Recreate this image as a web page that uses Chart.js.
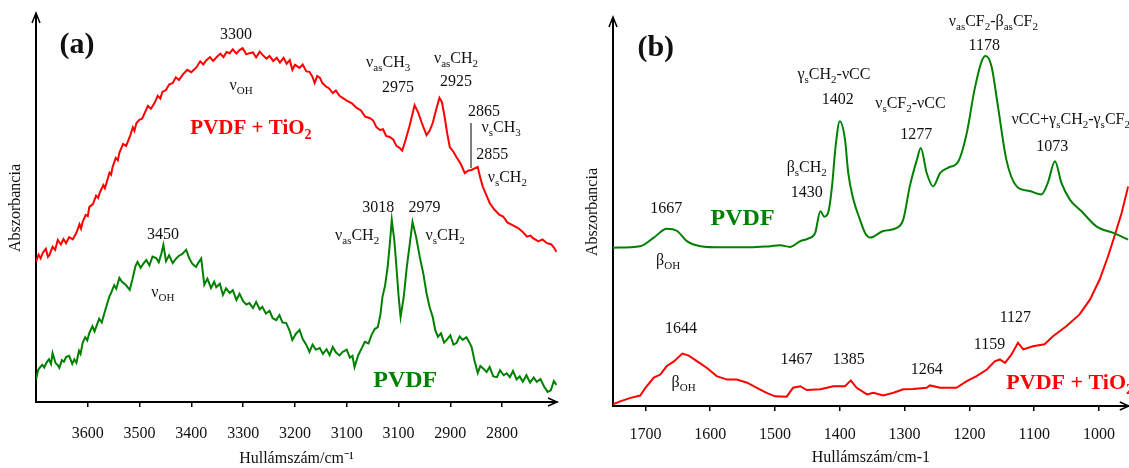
<!DOCTYPE html>
<html>
<head>
<meta charset="utf-8">
<script src="https://cdn.jsdelivr.net/npm/chart.js@4.4.0/dist/chart.umd.min.js"></script>
<style>
    html, body { margin: 0; padding: 0; background: #fff; }
    #wrap { position: relative; width: 1129px; height: 468px; overflow: hidden; }
    #chartA { position: absolute; left: 0; top: 0; }
    #chartB { position: absolute; left: 565px; top: 0; }
</style>
</head>
<body>
<div id="wrap">
    <canvas id="chartA" width="565" height="468"></canvas>
    <canvas id="chartB" width="564" height="468"></canvas>
</div>
<script>
// (a) high wavenumber region
var tickValuesA = [3600, 3500, 3400, 3300, 3200, 3100, 3000, 2900, 2800];
var tickLabelsA = ['3600', '3500', '3400', '3300', '3200', '3100', '3100', '2900', '2800'];

var wnA_tio2 = [3700, 3695, 3691, 3687, 3681, 3677, 3674, 3668, 3663, 3658, 3652, 3647, 3642, 3636, 3629, 3622,
    3616, 3613, 3610, 3604, 3600, 3597, 3590, 3584, 3580, 3577, 3570, 3567, 3564, 3558, 3555, 3552, 3546, 3542,
    3539, 3532, 3526, 3519, 3513, 3510, 3506, 3500, 3495, 3490, 3484, 3478, 3471, 3465, 3460, 3456, 3449, 3443,
    3436, 3430, 3424, 3417, 3408, 3400, 3390, 3383, 3377, 3371, 3364, 3358, 3351, 3344, 3338, 3332, 3326, 3320,
    3313, 3307, 3301, 3294, 3288, 3281, 3275, 3268, 3262, 3255, 3249, 3242, 3235, 3229, 3222, 3216, 3210, 3205,
    3200, 3191, 3185, 3178, 3172, 3166, 3162, 3157, 3152, 3147, 3140, 3134, 3127, 3121, 3114, 3108, 3100, 3090,
    3081, 3073, 3064, 3056, 3049, 3043, 3036, 3030, 3024, 3017, 3010, 3004, 2998, 2993, 2988, 2979, 2969, 2962,
    2955, 2946, 2940, 2934, 2927, 2921, 2916, 2911, 2906, 2901, 2894, 2888, 2880, 2872, 2866, 2859, 2853, 2847,
    2842, 2837, 2830, 2824, 2815, 2805, 2798, 2790, 2780, 2770, 2760, 2752, 2745, 2741, 2730, 2722, 2714, 2705,
    2700, 2695];
var absA_tio2 = [36.2, 38.0, 37.0, 38.4, 39.5, 37.4, 37.9, 40.0, 39.2, 41.8, 40.6, 42.0, 40.9, 42.5, 41.9, 43.6,
    45.8, 44.7, 46.4, 48.2, 47.9, 50.3, 51.0, 53.2, 52.6, 53.9, 55.9, 55.1, 56.4, 59.1, 58.6, 60.6, 62.9, 62.3,
    64.2, 66.5, 66.0, 68.3, 70.8, 69.9, 71.9, 72.8, 73.0, 74.5, 76.3, 75.6, 77.1, 78.9, 78.2, 79.9, 80.4, 81.8,
    82.2, 83.7, 83.0, 84.3, 85.6, 85.0, 86.3, 87.8, 87.0, 88.1, 88.9, 87.9, 88.9, 89.8, 88.9, 90.2, 89.9, 90.9,
    89.8, 90.7, 91.2, 89.6, 89.9, 90.1, 88.8, 90.3, 89.4, 88.5, 89.2, 87.9, 88.7, 87.5, 88.7, 87.2, 88.1, 85.6,
    86.9, 86.1, 87.0, 85.2, 85.1, 83.8, 82.2, 84.0, 83.6, 82.2, 81.3, 80.8, 79.6, 80.3, 78.9, 78.4, 77.7, 77.0,
    75.8, 75.2, 73.5, 73.2, 72.6, 70.9, 70.1, 70.3, 68.6, 68.3, 67.6, 66.0, 65.5, 64.8, 66.8, 71.0, 76.5, 74.6,
    71.9, 68.8, 69.9, 71.9, 75.5, 78.4, 77.2, 73.5, 69.2, 65.7, 64.5, 63.1, 61.4, 59.0, 59.6, 59.8, 60.2, 60.6,
    57.7, 55.4, 53.2, 51.3, 49.6, 48.2, 47.8, 46.3, 45.6, 44.9, 43.8, 42.6, 42.9, 42.3, 41.4, 41.9, 41.0, 40.6,
    39.8, 38.7];

var wnA_pvdf = [3700, 3696, 3693, 3688, 3684, 3680, 3675, 3671, 3668, 3662, 3658, 3655, 3650, 3646, 3642, 3636,
    3630, 3626, 3622, 3617, 3614, 3610, 3605, 3601, 3597, 3591, 3587, 3584, 3578, 3573, 3568, 3562, 3558, 3555,
    3549, 3545, 3539, 3534, 3527, 3519, 3514, 3508, 3504, 3498, 3492, 3487, 3481, 3475, 3468, 3463, 3458, 3454,
    3449, 3443, 3436, 3430, 3424, 3418, 3410, 3404, 3398, 3391, 3386, 3381, 3375, 3369, 3362, 3356, 3352, 3345,
    3339, 3333, 3326, 3320, 3313, 3307, 3300, 3294, 3288, 3281, 3275, 3268, 3263, 3256, 3249, 3243, 3236, 3230,
    3224, 3217, 3210, 3205, 3198, 3191, 3185, 3178, 3172, 3166, 3160, 3152, 3146, 3139, 3133, 3127, 3121, 3114,
    3108, 3100, 3094, 3089, 3085, 3078, 3071, 3065, 3058, 3052, 3046, 3040, 3035, 3031, 3026, 3021, 3017, 3013,
    3008, 3004, 3000, 2996, 2990, 2984, 2978, 2973, 2966, 2959, 2952, 2946, 2940, 2934, 2929, 2924, 2918, 2912,
    2907, 2900, 2894, 2888, 2882, 2876, 2869, 2863, 2859, 2853, 2847, 2842, 2836, 2830, 2824, 2817, 2810, 2804,
    2797, 2791, 2785, 2779, 2772, 2766, 2760, 2753, 2746, 2739, 2733, 2726, 2719, 2712, 2706, 2700, 2695];
var absA_pvdf = [5.7, 8.2, 8.8, 9.6, 8.9, 10.1, 11.0, 9.8, 12.6, 10.0, 9.5, 8.8, 10.8, 10.4, 11.6, 11.9,
    9.8, 11.0, 10.1, 13.2, 12.4, 15.2, 16.7, 15.9, 17.8, 19.5, 18.2, 19.3, 21.5, 20.5, 22.9, 25.6, 27.3, 28.1,
    30.1, 29.2, 32.0, 31.0, 30.2, 28.9, 31.5, 35.0, 36.1, 34.6, 35.8, 36.6, 35.2, 37.5, 37.1, 36.0, 38.2, 40.5,
    36.3, 37.8, 35.8, 36.9, 37.7, 38.1, 39.2, 37.0, 35.6, 34.8, 36.0, 37.0, 30.2, 31.8, 29.4, 31.0, 29.6, 30.5,
    27.6, 29.3, 28.1, 28.8, 26.3, 27.9, 26.0, 25.1, 25.5, 24.2, 25.8, 23.9, 24.5, 22.8, 23.5, 21.6, 21.1, 22.4,
    20.5, 20.4, 18.3, 16.0, 17.6, 18.6, 16.2, 14.7, 12.9, 14.8, 13.5, 13.9, 12.4, 13.6, 12.1, 14.2, 12.8, 12.0,
    12.9, 13.5, 11.4, 11.9, 9.0, 12.0, 13.9, 15.5, 15.1, 17.3, 18.8, 19.3, 22.5, 27.1, 30.0, 34.8, 40.5, 46.9,
    41.5, 34.8, 27.5, 21.9, 27.0, 34.8, 41.0, 46.4, 42.5, 37.4, 33.0, 28.1, 24.5, 21.9, 18.5, 16.8, 17.7, 15.3,
    16.0, 17.2, 14.8, 15.2, 16.9, 16.0, 16.7, 15.3, 14.2, 10.5, 7.5, 9.3, 8.6, 7.7, 9.0, 6.6, 6.4, 8.2,
    6.9, 7.4, 6.4, 8.0, 5.8, 6.6, 5.2, 6.9, 5.0, 6.3, 5.2, 5.9, 4.0, 2.6, 3.0, 5.4, 4.4];

// (b) fingerprint region
var tickValuesB = [1700, 1600, 1500, 1400, 1300, 1200, 1100, 1000];
var tickLabelsB = ['1700', '1600', '1500', '1400', '1300', '1200', '1100', '1000'];

var wnB_pvdf = [1750, 1708, 1687, 1667, 1651, 1636, 1615, 1584, 1538, 1507, 1492, 1477, 1461, 1448, 1438, 1430,
    1424, 1418, 1412, 1407, 1400, 1392, 1387, 1379, 1369, 1361, 1353, 1333, 1312, 1302, 1292, 1281, 1275, 1266,
    1256, 1245, 1233, 1217, 1204, 1192, 1181, 1175, 1166, 1156, 1143, 1127, 1107, 1089, 1079, 1068, 1058, 1045,
    1027, 1004, 978, 955];
var absB_pvdf = [40.8, 41.2, 43.4, 45.7, 45.1, 42.5, 41.2, 40.9, 40.9, 41.2, 41.4, 41.0, 42.5, 43.2, 44.6, 50.2,
    48.8, 49.8, 56.6, 66.1, 73.4, 68.7, 60.1, 53.2, 48.1, 44.6, 43.4, 45.1, 45.9, 48.1, 56.6, 63.5, 66.5, 60.1,
    56.6, 60.1, 61.4, 63.1, 70.4, 81.6, 88.9, 90.2, 87.6, 77.3, 63.5, 56.6, 55.4, 54.5, 57.5, 63.1, 57.5, 53.2,
    50.2, 46.3, 44.6, 42.9];

var wnB_tio2 = [1750, 1739, 1723, 1708, 1700, 1687, 1677, 1667, 1656, 1643, 1633, 1620, 1605, 1590, 1574, 1559,
    1543, 1528, 1513, 1500, 1482, 1472, 1461, 1451, 1430, 1410, 1392, 1383, 1374, 1358, 1348, 1333, 1317, 1302,
    1287, 1266, 1261, 1245, 1220, 1204, 1189, 1173, 1161, 1153, 1145, 1135, 1125, 1117, 1102, 1084, 1071, 1050,
    1030, 1014, 999, 986, 976, 965, 955];
var absB_tio2 = [0.4, 1.2, 2.1, 2.7, 4.7, 7.3, 8.1, 10.3, 11.5, 13.5, 13.0, 11.5, 9.8, 7.7, 6.8, 6.8,
    6.0, 4.7, 3.4, 2.5, 2.4, 4.7, 5.1, 4.1, 4.3, 5.1, 5.1, 6.6, 4.7, 3.0, 3.4, 2.7, 3.4, 4.3,
    4.4, 4.7, 5.3, 4.7, 4.7, 6.4, 7.7, 9.4, 11.5, 12.0, 11.1, 13.3, 16.3, 14.6, 15.4, 15.9, 18.0, 20.6,
    23.6, 27.4, 32.6, 38.6, 43.8, 49.8, 56.6];

var RED = '#ff0000';
var GREEN = '#008000';
var SERIF = '"Liberation Serif", "Times New Roman", serif';

var labelsA = [
    { t: '(a)', x: 3621, y: 92.5, s: 30, b: true },
    { t: '3300', x: 3314, y: 94.8 },
    { t: 'ν_{OH}', x: 3304, y: 81.7 },
    { t: 'PVDF + TiO_{2}', x: 3285, y: 70.9, s: 21, c: RED, b: true },
    { t: 'ν_{as}CH_{3}', x: 3020, y: 87.6 },
    { t: '2975', x: 3001, y: 81.2 },
    { t: 'ν_{as}CH_{2}', x: 2889, y: 88.7 },
    { t: '2925', x: 2889, y: 82.7 },
    { t: '2865', x: 2835, y: 75.0 },
    { t: 'ν_{s}CH_{3}', x: 2802, y: 70.9 },
    { t: '2855', x: 2819, y: 63.9 },
    { t: 'ν_{s}CH_{2}', x: 2790, y: 58.0 },
    { t: '3450', x: 3455, y: 43.3 },
    { t: 'ν_{OH}', x: 3455, y: 28.4 },
    { t: '3018', x: 3039, y: 50.3 },
    { t: '2979', x: 2950, y: 50.3 },
    { t: 'ν_{as}CH_{2}', x: 3080, y: 43.0 },
    { t: 'ν_{s}CH_{2}', x: 2910, y: 43.0 },
    { t: 'PVDF', x: 2987, y: 5.9, s: 24, c: GREEN, b: true }
];
var linesA = [{ x: 2860, y1: 71.9, y2: 60.3 }];

var labelsB = [
    { t: '(b)', x: 1684, y: 92.7, s: 30, b: true },
    { t: 'ν_{as}CF_{2}-β_{as}CF_{2}', x: 1163, y: 99.4 },
    { t: '1178', x: 1177, y: 93.2 },
    { t: 'γ_{s}CH_{2}-νCC', x: 1409, y: 85.7 },
    { t: '1402', x: 1403, y: 79.3 },
    { t: 'ν_{s}CF_{2}-νCC', x: 1291, y: 78.2 },
    { t: '1277', x: 1282, y: 70.2 },
    { t: 'νCC+γ_{s}CH_{2}-γ_{s}CF_{2}', x: 1135, y: 74.1, a: 'left' },
    { t: '1073', x: 1072, y: 67.1 },
    { t: 'β_{s}CH_{2}', x: 1451, y: 61.7 },
    { t: '1430', x: 1451, y: 55.3 },
    { t: '1667', x: 1668, y: 51.2 },
    { t: 'PVDF', x: 1550, y: 48.6, s: 24, c: GREEN, b: true },
    { t: 'β_{OH}', x: 1665, y: 37.8 },
    { t: '1644', x: 1645, y: 20.2 },
    { t: 'β_{OH}', x: 1641, y: 6.3 },
    { t: '1467', x: 1467, y: 12.2 },
    { t: '1385', x: 1386, y: 12.2 },
    { t: '1264', x: 1266, y: 9.7 },
    { t: '1159', x: 1169, y: 16.1 },
    { t: '1127', x: 1129, y: 23.1 },
    { t: 'PVDF + TiO_{2}', x: 1143, y: 6.3, s: 22, c: RED, b: true, a: 'left' }
];

function toPoints(xs, ys) {
    return xs.map(function (x, i) { return { x: x, y: ys[i] }; });
}

// text with _{...} subscripts
function drawRich(ctx, text, x, y, size, color, bold, align) {
    var parts = [], re = /_\{([^}]*)\}/g, last = 0, m;
    while ((m = re.exec(text)) !== null) {
        if (m.index > last) parts.push({ t: text.slice(last, m.index), sub: false });
        parts.push({ t: m[1], sub: true });
        last = re.lastIndex;
    }
    if (last < text.length) parts.push({ t: text.slice(last), sub: false });
    var weight = bold ? 'bold ' : '';
    var subSize = Math.round(size * 0.66);
    var total = 0;
    parts.forEach(function (p) {
        ctx.font = weight + (p.sub ? subSize : size) + 'px ' + SERIF;
        p.w = ctx.measureText(p.t).width;
        total += p.w;
    });
    var cx = align === 'left' ? x : x - total / 2;
    var base = y + size * 0.33;
    ctx.fillStyle = color;
    ctx.textAlign = 'left';
    ctx.textBaseline = 'alphabetic';
    parts.forEach(function (p) {
        ctx.font = weight + (p.sub ? subSize : size) + 'px ' + SERIF;
        ctx.fillText(p.t, cx, p.sub ? base + size * 0.25 : base);
        cx += p.w;
    });
}

var peakLabels = {
    id: 'peakLabels',
    afterDraw: function (chart, args, opts) {
        var ctx = chart.ctx, a = chart.chartArea;
        var xs = chart.scales.x, ys = chart.scales.y;
        ctx.save();
        ctx.strokeStyle = '#000';
        ctx.lineWidth = 1.5;
        ctx.beginPath();
        ctx.moveTo(a.left - 4, a.top + 9);
        ctx.lineTo(a.left, a.top - 1);
        ctx.lineTo(a.left + 4, a.top + 9);
        ctx.moveTo(a.right - 9, a.bottom - 4);
        ctx.lineTo(a.right, a.bottom);
        ctx.lineTo(a.right - 9, a.bottom + 4);
        ctx.stroke();

        ctx.lineWidth = 1;
        (opts.lines || []).forEach(function (l) {
            var px = xs.getPixelForValue(l.x);
            ctx.beginPath();
            ctx.moveTo(px, ys.getPixelForValue(l.y1));
            ctx.lineTo(px, ys.getPixelForValue(l.y2));
            ctx.stroke();
        });

        (opts.items || []).forEach(function (it) {
            drawRich(ctx, it.t, xs.getPixelForValue(it.x), ys.getPixelForValue(it.y),
                it.s || 16, it.c || '#111', it.b, it.a);
        });
        ctx.restore();
    }
};

function makeChart(id, cfg) {
    var ctx = document.getElementById(id).getContext('2d');
    return new Chart(ctx, {
        type: 'line',
        data: {
            datasets: cfg.series.map(function (s) {
                return {
                    data: s.data,
                    borderColor: s.color,
                    borderWidth: 2,
                    pointRadius: 0,
                    fill: false,
                    tension: 0,
                    cubicInterpolationMode: s.smooth ? 'monotone' : 'default'
                };
            })
        },
        options: {
            responsive: false,
            animation: false,
            devicePixelRatio: 1,
            layout: { padding: cfg.padding },
            plugins: {
                legend: { display: false },
                tooltip: { enabled: false },
                peakLabels: { items: cfg.labels, lines: cfg.lines }
            },
            scales: {
                x: {
                    type: 'linear',
                    reverse: true,
                    min: cfg.xMin,
                    max: cfg.xMax,
                    afterBuildTicks: function (s) {
                        s.ticks = cfg.tickValues.map(function (v) { return { value: v }; });
                    },
                    afterFit: function (s) { s.height = cfg.xHeight; },
                    ticks: {
                        autoSkip: false,
                        maxRotation: 0,
                        padding: cfg.tickPad,
                        color: '#111',
                        font: { family: SERIF, size: 16 },
                        callback: function (v, i) { return cfg.tickLabels[i]; }
                    },
                    grid: { drawOnChartArea: false, drawTicks: true, tickLength: 5, color: '#000', lineWidth: 1.5 },
                    border: { display: true, color: '#000', width: 2 },
                    title: {
                        display: true,
                        text: cfg.xTitle,
                        color: '#111',
                        font: { family: SERIF, size: 16 },
                        padding: { top: 0, bottom: cfg.titlePad }
                    }
                },
                y: {
                    min: 0,
                    max: 100,
                    afterFit: function (s) { s.width = cfg.yWidth; },
                    ticks: { display: false },
                    grid: { display: false },
                    border: { display: true, color: '#000', width: 2 },
                    title: {
                        display: true,
                        text: 'Abszorbancia',
                        color: '#111',
                        font: { family: SERIF, size: 16 },
                        padding: { top: cfg.yTitlePad, bottom: 0 }
                    }
                }
            }
        },
        plugins: [peakLabels]
    });
}

makeChart('chartA', {
    series: [
        { data: toPoints(wnA_tio2, absA_tio2), color: RED },
        { data: toPoints(wnA_pvdf, absA_pvdf), color: GREEN }
    ],
    labels: labelsA,
    lines: linesA,
    padding: { left: 0, right: 8, top: 14, bottom: 0 },
    xMin: 2694, xMax: 3700,
    tickValues: tickValuesA, tickLabels: tickLabelsA,
    xHeight: 66, tickPad: 17, titlePad: 0,
    xTitle: 'Hullámszám/cm⁻¹',
    yWidth: 36, yTitlePad: 6
});

makeChart('chartB', {
    series: [
        { data: toPoints(wnB_pvdf, absB_pvdf), color: GREEN, smooth: true },
        { data: toPoints(wnB_tio2, absB_tio2), color: RED }
    ],
    labels: labelsB,
    lines: [],
    padding: { left: 0, right: 0, top: 18, bottom: 0 },
    xMin: 954, xMax: 1750,
    tickValues: tickValuesB, tickLabels: tickLabelsB,
    xHeight: 62, tickPad: 14, titlePad: 1,
    xTitle: 'Hullámszám/cm-1',
    yWidth: 48, yTitlePad: 18
});
</script>
</body>
</html>
